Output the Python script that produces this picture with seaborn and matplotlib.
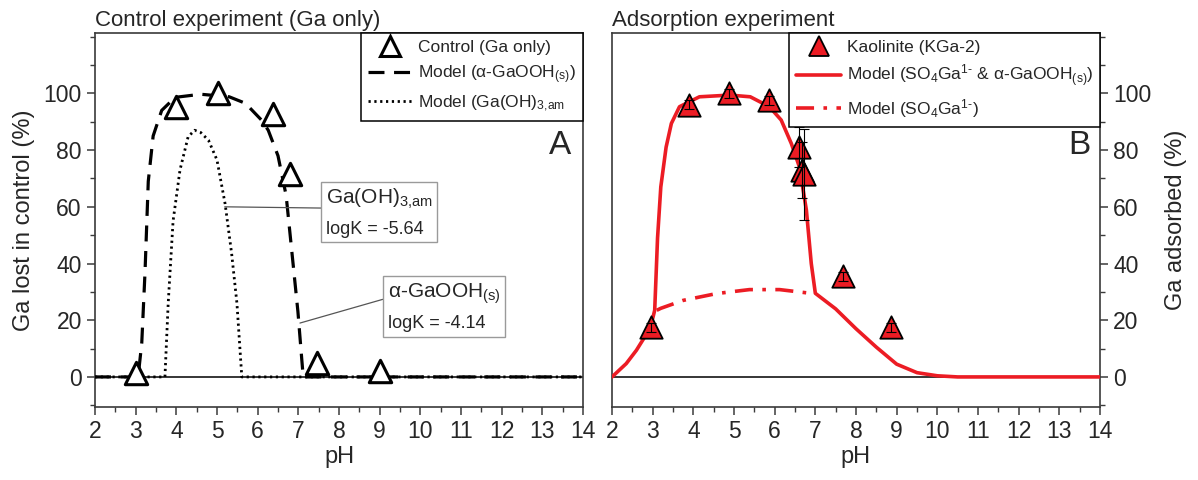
import matplotlib
matplotlib.use("Agg")
import matplotlib.pyplot as plt
import seaborn as sns
import pandas as pd
from matplotlib.ticker import MultipleLocator
from matplotlib.lines import Line2D
from matplotlib.offsetbox import TextArea, VPacker, AnnotationBbox

# ---------------- data ----------------
# Panel A: control experiment (Ga only)
ctrl_ph = [3.0, 4.0, 5.02, 6.37, 6.8, 7.45, 9.02]
ctrl_val = [1.3, 95.3, 100.0, 92.8, 71.5, 5.0, 2.2]

gaooh_ph = [2.0, 3.0, 3.06, 3.15, 3.23, 3.31, 3.43, 3.64, 3.97, 4.6, 5.3, 5.7,
            6.1, 6.26, 6.5, 6.7, 6.87, 6.99, 7.08, 7.12, 14.0]
gaooh_val = [0, 0, 0, 12, 37, 69, 85, 94, 98.6, 99.7, 98.8, 96.5,
             90.5, 87, 78, 64, 40, 23, 7, 0, 0]

gaoh3_ph = [2.0, 3.72, 3.8, 3.92, 4.09, 4.29, 4.45, 4.6, 4.79, 5.0, 5.2, 5.36,
            5.49, 5.61, 14.0]
gaoh3_val = [0, 0, 26, 55, 73, 84.7, 87.0, 86.2, 83.5, 76.5, 61, 43.5,
             26, 0, 0]

# Panel B: adsorption experiment (kaolinite)
kao_ph = [2.95, 3.9, 4.88, 5.87, 6.6, 6.66, 6.72, 7.68, 8.87]
kao_val = [17.5, 96.0, 100.0, 97.5, 81.0, 73.0, 71.5, 35.5, 17.5]
kao_err = [1.5, 1.5, 1.5, 1.5, 7.0, 10.0, 16.0, 1.5, 1.5]

full_ph = [2.0, 2.35, 2.6, 2.8, 3.0, 3.05, 3.12, 3.2, 3.33, 3.46, 3.66, 4.15,
           4.9, 5.4, 5.87, 6.16, 6.41, 6.61, 6.78, 6.9, 7.0, 7.5, 8.0, 8.5,
           9.0, 9.5, 10.0, 10.5, 14.0]
full_val = [0, 4.7, 9.4, 14, 20.6, 23.5, 49, 67, 81, 89.4, 95.3, 98.8,
            99.4, 98.8, 95.3, 90.6, 82.3, 74, 58.8, 40, 29.5, 24, 17, 10.5,
            4.5, 1.5, 0.4, 0, 0]

so4_ph = [3.1, 3.2, 3.75, 4.57, 5.38, 6.12, 6.94]
so4_val = [23.5, 24.2, 27.0, 29.4, 30.8, 30.8, 29.4]

x_ticks = list(range(2, 15))
y_ticks = [0, 20, 40, 60, 80, 100]

# ---------------- style ----------------
sns.set_theme(style="ticks")
plt.rcParams["font.family"] = ["Liberation Sans", "DejaVu Sans"]
plt.rcParams["mathtext.fontset"] = "custom"
plt.rcParams["mathtext.rm"] = "Liberation Sans"
plt.rcParams["mathtext.it"] = "Liberation Sans:italic"
plt.rcParams["mathtext.default"] = "regular"

RED = "#ec1c24"
SPINE = "#3a3a3a"
TICK_FS = 16.5
LAB_FS = 17
LEG_FS = 12.5

fig = plt.figure(figsize=(11.98, 4.8), dpi=100)
W, H = 1198, 480
bottom = 1 - 406.7 / H
height = (406.7 - 33) / H
ax1 = fig.add_axes([95 / W, bottom, 488 / W, height])
ax2 = fig.add_axes([612 / W, bottom, 488 / W, height])

for ax in (ax1, ax2):
    ax.set_xlim(2, 14)
    ax.set_ylim(-10.5, 121.3)
    ax.set_xticks(x_ticks)
    ax.set_yticks(y_ticks)
    ax.xaxis.set_minor_locator(MultipleLocator(0.5))
    ax.yaxis.set_minor_locator(MultipleLocator(10))
    for s in ax.spines.values():
        s.set_color(SPINE)
        s.set_linewidth(1.2)
        s.set_visible(True)
    ax.tick_params(which="major", length=6, width=1.1, color=SPINE,
                   labelsize=TICK_FS, direction="out")
    ax.tick_params(which="minor", length=3.5, width=1.0, color=SPINE,
                   direction="out")
    ax.axhline(0, color="black", lw=1.1, zorder=1)
    ax.set_xlabel("pH", fontsize=LAB_FS, labelpad=2)

ax1.tick_params(which="both", left=True, right=False, top=False)
ax2.tick_params(which="both", left=False, right=True, top=False,
                labelleft=False, labelright=True)
ax2.yaxis.set_label_position("right")

# ---------------- panel A ----------------
dfA = pd.DataFrame({"pH": ctrl_ph, "val": ctrl_val})
sns.lineplot(x=gaooh_ph, y=gaooh_val, ax=ax1, color="black", lw=2.3,
             linestyle=(0, (5, 3)), sort=False, estimator=None, zorder=3)
sns.lineplot(x=gaoh3_ph, y=gaoh3_val, ax=ax1, color="black", lw=2.0,
             linestyle=(0, (0.8, 1.3)), sort=False, estimator=None, zorder=3)
sns.scatterplot(data=dfA, x="pH", y="val", ax=ax1, marker="^", s=260,
                facecolor="white", edgecolor="black", linewidth=2.2,
                zorder=4)
ax1.set_ylabel("Ga lost in control (%)", fontsize=LAB_FS, labelpad=6)
ax1.set_title("Control experiment (Ga only)", loc="left", fontsize=16,
              pad=5)
ax1.text(0.975, 0.70, "A", transform=ax1.transAxes, fontsize=24,
         ha="right", va="center")

h_ctrl = Line2D([], [], marker="^", ls="none", ms=15, mfc="white",
                mec="black", mew=2.2)
h_gaooh = Line2D([], [], color="black", lw=2.3, ls=(0, (5, 3)))
h_gaoh3 = Line2D([], [], color="black", lw=2.0, ls=(0, (0.8, 1.3)))
leg1 = ax1.legend([h_ctrl, h_gaooh, h_gaoh3],
                  ["Control (Ga only)", "Model (α-GaOOH$_{(s)}$)",
                   "Model (Ga(OH)$_{\\text{3,am}}$"],
                  loc="upper right", borderaxespad=0, fontsize=LEG_FS,
                  frameon=True, fancybox=False, edgecolor="black",
                  framealpha=1, handlelength=2.6, handletextpad=0.3,
                  labelspacing=0.45, borderpad=0.4)
leg1.get_frame().set_linewidth(1.1)


def label_box(ax, line1, line2, xy, xybox, relpos):
    pack = VPacker(children=[TextArea(line1, textprops=dict(fontsize=15)),
                             TextArea(line2, textprops=dict(fontsize=13))],
                   align="left", pad=0, sep=7)
    ab = AnnotationBbox(pack, xy, xybox=xybox, xycoords="data",
                        boxcoords="data", box_alignment=(0, 0.5),
                        frameon=True, pad=0.35,
                        bboxprops=dict(boxstyle="square", fc="white",
                                       ec="#9a9a9a", lw=1),
                        arrowprops=dict(arrowstyle="-", color="#555555",
                                        lw=0.9, relpos=relpos,
                                        shrinkA=0, shrinkB=0),
                        zorder=6)
    ax.add_artist(ab)


label_box(ax1, "Ga(OH)$_{\\text{3,am}}$", "logK = -5.64",
          (5.19, 60), (7.68, 58.1), (0, 0.58))
label_box(ax1, "α-GaOOH$_{(s)}$", "logK = -4.14",
          (7.04, 19), (9.2, 24.8), (0, 0.67))

# ---------------- panel B ----------------
dfB = pd.DataFrame({"pH": kao_ph, "val": kao_val})
sns.lineplot(x=full_ph, y=full_val, ax=ax2, color=RED, lw=2.6,
             sort=False, estimator=None, zorder=3)
sns.lineplot(x=so4_ph, y=so4_val, ax=ax2, color=RED, lw=2.6,
             linestyle=(0, (5, 2.6, 1, 2.6)), sort=False, estimator=None,
             zorder=3)
sns.scatterplot(data=dfB, x="pH", y="val", ax=ax2, marker="^", s=260,
                color=RED, edgecolor="black", linewidth=1.3, zorder=4)
ax2.errorbar(kao_ph, kao_val, yerr=kao_err, fmt="none", ecolor="black",
             elinewidth=0.8, capsize=3.5, capthick=0.8, zorder=5)
ax2.set_ylabel("Ga adsorbed (%)", fontsize=LAB_FS, rotation=90, labelpad=10)
ax2.set_title("Adsorption experiment", loc="left", fontsize=16, pad=5)
ax2.text(0.98, 0.70, "B", transform=ax2.transAxes, fontsize=24,
         ha="right", va="center")

h_kao = Line2D([], [], marker="^", ls="none", ms=15, mfc=RED,
               mec="black", mew=1.3)
h_full = Line2D([], [], color=RED, lw=2.6)
h_so4 = Line2D([], [], color=RED, lw=2.6, ls=(0, (5, 2.6, 1, 2.6)))
leg2 = ax2.legend([h_kao, h_full, h_so4],
                  ["Kaolinite (KGa-2)",
                   "Model (SO$_4$Ga$^{\\text{1-}}$ & α-GaOOH$_{(s)}$)",
                   "Model (SO$_4$Ga$^{\\text{1-}}$)"],
                  loc="upper right", borderaxespad=0, fontsize=LEG_FS,
                  frameon=True, fancybox=False, edgecolor="black",
                  framealpha=1, handlelength=2.6, handletextpad=0.3,
                  labelspacing=0.45, borderpad=0.4)
leg2.get_frame().set_linewidth(1.1)

fig.savefig("out.png", dpi=100)
